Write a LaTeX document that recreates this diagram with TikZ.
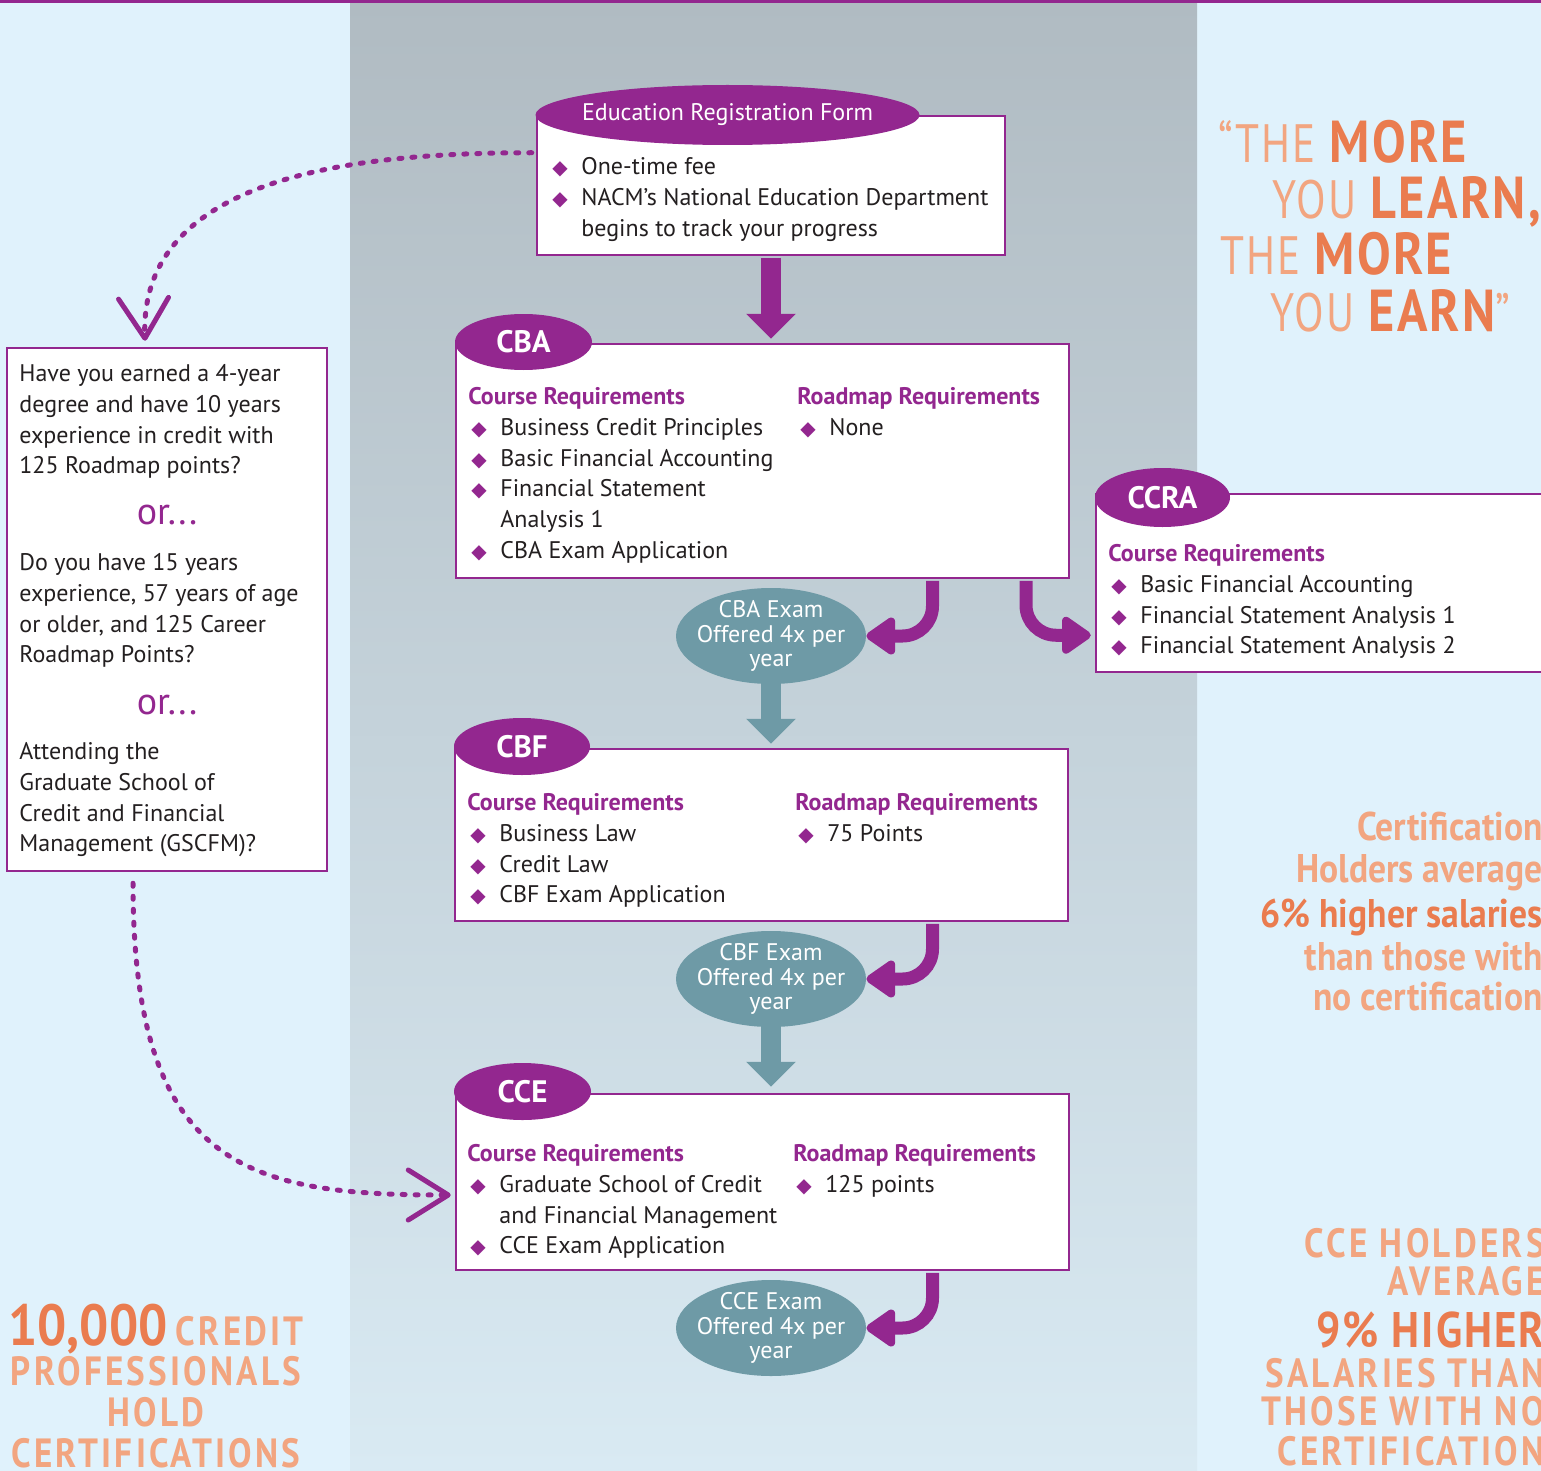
\documentclass[tikz,border=0pt]{standalone}
\usepackage{fontspec}
\setmainfont{PT Sans}
\newfontfamily\symfont{DejaVu Sans}
\newfontfamily\quotefont[FakeStretch=0.8,LetterSpace=4]{PT Sans}
\newfontfamily\quotebold[FakeStretch=0.85,LetterSpace=4]{PT Sans}
\newfontfamily\statfont[FakeStretch=0.89]{PT Sans}
\newfontfamily\capsfont[FakeStretch=0.86,LetterSpace=8]{PT Sans}
\usepackage{tikz}
\usetikzlibrary{shapes.geometric,arrows.meta,positioning,calc}

\definecolor{purp}{HTML}{93278F}
\definecolor{tealx}{HTML}{6E9AA6}
\definecolor{skyb}{HTML}{E0F2FC}
\definecolor{slate}{HTML}{B0BBC2}
\definecolor{slatelow}{HTML}{D9EAF3}
\definecolor{orD}{HTML}{EA7C4F}
\definecolor{orL}{HTML}{F2A580}
\definecolor{ink}{HTML}{231F20}

\newcommand{\bul}{\makebox[16pt][l]{\hspace{1.5pt}\textcolor{purp}{\symfont\fontsize{10}{10}\selectfont ◆}}}
\newcommand{\hang}{\hspace*{16pt}}
\newcommand{\reqhd}[1]{\textcolor{purp}{\bfseries #1}}
\newcommand{\orlite}[1]{\textcolor{orL}{#1}}
\newcommand{\ordark}[1]{\textcolor{orD}{\quotebold\bfseries\fontsize{29.6}{30}\selectfont #1}}

\begin{document}
\begin{tikzpicture}[x=0.5pt, y=-0.5pt, font=\fontsize{12}{15.4}\selectfont, text=ink]
\tikzstyle{box}=[draw=purp, line width=1.25pt, fill=white, inner sep=0]
\tikzstyle{tag}=[ellipse, fill=purp, text=white, inner sep=0, font=\bfseries\fontsize{15.5}{16}\selectfont]
\tikzstyle{exam}=[ellipse, fill=tealx, text=white, inner sep=-10pt, align=center, minimum width=95pt, minimum height=48pt, font=\fontsize{12}{12.25}\selectfont]
\tikzstyle{list}=[anchor=north west, inner sep=0, align=left]
\tikzstyle{fat}=[line width=10pt, -{Triangle[length=12.5pt,width=24pt]}]
\tikzstyle{hookarrow}=[purp, line width=6.5pt, rounded corners=15pt, -{Triangle[length=16pt,width=21pt,round]}]
\tikzstyle{dots}=[purp, line width=2.5pt, line cap=round, dash pattern=on 1.5pt off 5pt, -{Straight Barb[length=20pt,width=25pt,round]}]
\tikzstyle{quoteline}=[anchor=base west, inner sep=0, font=\quotefont\fontsize{27}{27}\selectfont]
\tikzstyle{statline}=[anchor=base east, inner sep=0, text=orL, font=\statfont\bfseries\fontsize{20}{20}\selectfont]
\tikzstyle{capsline}=[inner sep=0, text=orL, font=\capsfont\bfseries\fontsize{20.4}{20.4}\selectfont]

% panels
\fill[skyb] (0,0) rectangle (1541,1471);
\shade[top color=slate, bottom color=slatelow] (350,0) rectangle (1197,1471);
\fill[purp] (0,0) rectangle (1541,3);
\useasboundingbox (0,0) rectangle (1541,1471);

% boxes
\node[box, minimum width=234pt, minimum height=69.5pt] (erf) at (771,185.5) {};
\node[box, minimum width=160pt, minimum height=261.5pt] (qbox) at (167,609.5) {};
\node[box, minimum width=306.5pt, minimum height=117pt] (cba) at (762.5,461) {};
\node[box, minimum width=306.5pt, minimum height=86pt] (cbf) at (761.5,835) {};
\node[box, minimum width=306.5pt, minimum height=88pt] (cce) at (762.5,1182) {};
\node[box, minimum width=232pt, minimum height=89pt] (ccra) at (1328,583) {};

% tags
\node[tag, inner xsep=-20pt, minimum width=192pt, minimum height=30pt, font=\fontsize{12}{12}\selectfont] (erftag) at (727.5,115) {Education Registration Form};
\node[tag, minimum width=68.5pt, minimum height=28pt] (cbatag) at (523.5,342) {CBA};
\node[tag, minimum width=68pt, minimum height=28.5pt] (cbftag) at (522,746.5) {CBF};
\node[tag, minimum width=68.5pt, minimum height=28.5pt] (ccetag) at (522.5,1091.5) {CCE};
\node[tag, minimum width=67.5pt, minimum height=29.5pt] (ccratag) at (1162.5,497.5) {CCRA};

% exams
\node[exam] (cbaexam) at (771,636) {CBA Exam\\Offered 4x per\\year};
\node[exam] (cbfexam) at (771,979) {CBF Exam\\Offered 4x per\\year};
\node[exam] (cceexam) at (771,1328) {CCE Exam\\Offered 4x per\\year};

% arrows
\draw[fat, purp] ([yshift=-0.75pt]erf.south) -- ([yshift=2pt]erf.south |- cba.north);
\draw[fat, tealx] ([yshift=2pt]cbaexam.south) -- ([yshift=2pt]cbaexam.south |- cbf.north);
\draw[fat, tealx] ([yshift=2pt]cbfexam.south) -- ([yshift=3pt]cbfexam.south |- cce.north);
\draw[hookarrow] ([xshift=85pt,yshift=-0.75pt]cba.south) |- (cbaexam.east);
\draw[hookarrow] ([xshift=131.75pt,yshift=-0.75pt]cba.south) |- ([xshift=-2pt,yshift=19pt]ccra.south west);
\draw[hookarrow] ([xshift=85.5pt,yshift=-0.75pt]cbf.south) |- (cbfexam.east);
\draw[hookarrow] ([xshift=85pt,yshift=-0.75pt]cce.south) |- (cceexam.east);
\draw[dots] ([xshift=-2pt,yshift=-19pt]erf.north west) to[out=180,in=92] ([xshift=-11pt,yshift=3pt]qbox.north);
\draw[dots] ([xshift=-17pt,yshift=-5.5pt]qbox.south) to[out=-90,in=180,out looseness=1.65,in looseness=1.15] ([xshift=-2pt,yshift=-6.5pt]cce.west);

% lists
\node[list] (erflist) at (549,157) {\bul One-time fee\\ \bul NACM’s National Education Department\\ \hang begins to track your progress};
\node[list] (cbacourse) at (468,387) {\reqhd{Course Requirements}\\ \bul Business Credit Principles\\ \bul Basic Financial Accounting\\ \bul Financial Statement\\ \hang Analysis 1\\ \bul CBA Exam Application};
\node[list] (cbaroad) at (797,387) {\reqhd{Roadmap Requirements}\\ \bul None};
\node[list] (cbfcourse) at (467,793) {\reqhd{Course Requirements}\\ \bul Business Law\\ \bul Credit Law\\ \bul CBF Exam Application};
\node[list] (cbfroad) at (795,793) {\reqhd{Roadmap Requirements}\\ \bul 75 Points};
\node[list] (ccecourse) at (467,1144) {\reqhd{Course Requirements}\\ \bul Graduate School of Credit\\ \hang and Financial Management\\ \bul CCE Exam Application};
\node[list] (cceroad) at (793,1144) {\reqhd{Roadmap Requirements}\\ \bul 125 points};
\node[list] (ccracourse) at (1108,544) {\reqhd{Course Requirements}\\ \bul Basic Financial Accounting\\ \bul Financial Statement Analysis 1\\ \bul Financial Statement Analysis 2};

% left questions
\node[list] (ask1) at (19,364) {Have you earned a 4-year\\degree and have 10 years\\experience in credit with\\125 Roadmap points?};
\node[anchor=base, inner sep=0, text=purp, font=\fontsize{19}{19}\selectfont] (or1) at (167,524) {or...};
\node[list] (ask2) at (19,553) {Do you have 15 years\\experience, 57 years of age\\or older, and 125 Career\\Roadmap Points?};
\node[anchor=base, inner sep=0, text=purp, font=\fontsize{19}{19}\selectfont] (or2) at (167,714) {or...};
\node[list] (ask3) at (19,742) {Attending the\\Graduate School of\\Credit and Financial\\Management (GSCFM)?};

% quote
\node[quoteline] (qt1) at (1218,163) {\orlite{“THE} \ordark{MORE}};
\node[quoteline] (qt2) at (1272,219) {\orlite{YOU} \ordark{LEARN,}};
\node[quoteline] (qt3) at (1220,275) {\orlite{THE} \ordark{MORE}};
\node[quoteline] (qt4) at (1270,331) {\orlite{YOU} \ordark{EARN}\orlite{”}};

% six percent
\node[statline] (st1) at (1543,840) {Certification};
\node[statline] (st2) at (1543,882) {Holders average};
\node[statline, text=orD] (st3) at (1543,927) {6\% higher salaries};
\node[statline] (st4) at (1543,970) {than those with};
\node[statline] (st5) at (1543,1010) {no certification};

% nine percent
\node[capsline, anchor=base east] (cc1) at (1545,1257) {CCE HOLDERS};
\node[capsline, anchor=base east] (cc2) at (1545,1295) {AVERAGE};
\node[capsline, anchor=base east, text=orD, font=\capsfont\bfseries\fontsize{25}{25}\selectfont\addfontfeature{LetterSpace=4}] (cc3) at (1545,1347) {9\% HIGHER};
\node[capsline, anchor=base east] (cc4) at (1545,1387) {SALARIES THAN};
\node[capsline, anchor=base east] (cc5) at (1545,1425) {THOSE WITH NO};
\node[capsline, anchor=base east] (cc6) at (1545,1465) {CERTIFICATION};

% ten thousand
\node[capsline, anchor=base west] (tk1) at (8,1345) {\textcolor{orD}{\statfont\fontsize{29}{29}\selectfont 10,000}\hspace{-2pt} CREDIT};
\node[capsline, anchor=base] (tk2) at (156,1385) {PROFESSIONALS};
\node[capsline, anchor=base] (tk3) at (156,1426) {HOLD};
\node[capsline, anchor=base] (tk4) at (156,1467) {CERTIFICATIONS};
\end{tikzpicture}
\end{document}
